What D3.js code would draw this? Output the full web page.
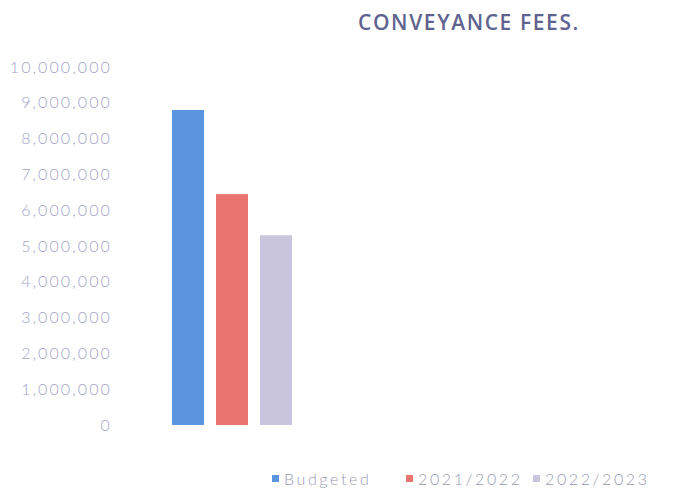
<!doctype html>
<html>
	<head>
		<title>Conveyance fees</title>
		<script src="https://d3js.org/d3.v7.min.js"></script>
		<style>
		body { margin: 0; background: #fff; }
		svg { display: block; }
		</style>
	</head>
	<body>
		<svg width="676" height="494"></svg>
		<script>
		var series = ["Budgeted", "2021/2022", "2022/2023"];
		var values = [8800000, 6450000, 5300000];
		var colors = ["#5b95e0", "#e8756f", "#c9c5dd"];
		var yTicks = [0, 1000000, 2000000, 3000000, 4000000, 5000000, 6000000, 7000000, 8000000, 9000000, 10000000];

		var svg = d3.select("svg");

		var y = d3.scaleLinear().domain([0, 10000000]).range([425, 67]);
		var x = d3.scaleBand().domain(series).range([172, 292]).paddingInner(0.273);
		var color = d3.scaleOrdinal().domain(series).range(colors);

		// title
		svg.append("text")
			.attr("x", 469).attr("y", 30)
			.attr("text-anchor", "middle")
			.style("font-family", "Open Sans, sans-serif")
			.style("font-size", "21px")
			.style("font-weight", 600)
			.style("letter-spacing", "1.6px")
			.style("fill", "#5f6390")
			.text("CONVEYANCE FEES.");

		// y axis, labels only
		var yAxis = d3.axisLeft(y).tickValues(yTicks).tickSize(0).tickPadding(0)
			.tickFormat(d3.format(","));
		var g = svg.append("g").attr("transform", "translate(112,0)").call(yAxis);
		g.select(".domain").remove();
		g.selectAll("text")
			.style("font-family", "Lato, sans-serif")
			.style("font-weight", 300)
			.style("font-size", "16px")
			.style("letter-spacing", "2.1px")
			.style("fill", "#a2a4c6");

		// bars
		svg.selectAll("rect.bar").data(values).enter().append("rect")
			.attr("class", "bar")
			.attr("x", function(d, i) { return x(series[i]); })
			.attr("y", function(d) { return y(d); })
			.attr("width", x.bandwidth())
			.attr("height", function(d) { return y(0) - y(d); })
			.attr("fill", function(d, i) { return color(series[i]); });

		// legend
		var legendX = [272, 406, 533];
		var leg = svg.selectAll("g.legend").data(series).enter().append("g")
			.attr("class", "legend")
			.attr("transform", function(d, i) { return "translate(" + legendX[i] + ",480)"; });
		leg.append("rect")
			.attr("x", 0).attr("y", -5).attr("width", 7).attr("height", 7)
			.attr("fill", function(d) { return color(d); });
		leg.append("text")
			.attr("x", 12).attr("y", 5)
			.style("font-family", "Lato, sans-serif")
			.style("font-weight", 300)
			.style("font-size", "16px")
			.style("letter-spacing", "2.6px")
			.style("fill", "#9a9ab2")
			.text(function(d) { return d; });
		</script>
	</body>
</html>
